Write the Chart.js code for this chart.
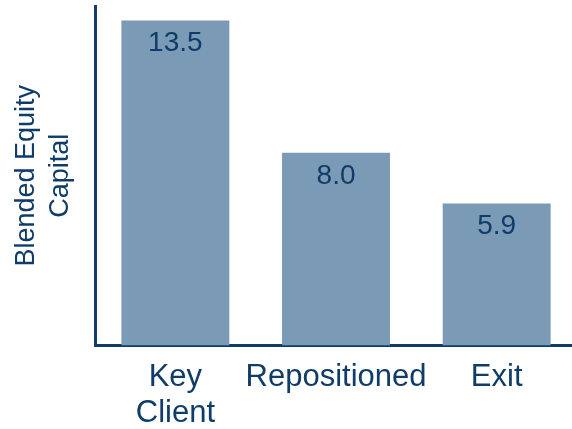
<!DOCTYPE html>
<html>
<head>
<meta charset="utf-8">
<script src="https://cdn.jsdelivr.net/npm/chart.js@4"></script>
<style>
  html, body { margin: 0; padding: 0; background: #fff; overflow: hidden; }
  #wrap { width: 577px; height: 429px; }
</style>
</head>
<body>
<div id="wrap"><canvas id="capitalChart"></canvas></div>
<script>
const categories = [['Key', 'Client'], 'Repositioned', 'Exit'];
const capitalValues = [13.5, 8.0, 5.9];
const valueLabels = ['13.5', '8.0', '5.9'];

const navy = '#0f3c68';
const barBlue = '#7a9ab5';
const fontFamily = '"Liberation Sans", Arial, sans-serif';

// writes each value just inside the top of its bar
const barValuePlugin = {
  id: 'barValues',
  afterDatasetsDraw(chart) {
    const ctx = chart.ctx;
    const meta = chart.getDatasetMeta(0);
    ctx.save();
    ctx.font = '28px ' + fontFamily;
    ctx.fillStyle = navy;
    ctx.textAlign = 'center';
    ctx.textBaseline = 'middle';
    meta.data.forEach((bar, i) => {
      ctx.fillText(valueLabels[i], bar.x, bar.y + 23);
    });
    ctx.restore();
  }
};

const ctx = document.getElementById('capitalChart').getContext('2d');
new Chart(ctx, {
  type: 'bar',
  data: {
    labels: categories,
    datasets: [{
      data: capitalValues,
      backgroundColor: barBlue,
      borderWidth: 0,
      categoryPercentage: 1,
      barPercentage: 0.672
    }]
  },
  options: {
    responsive: true,
    maintainAspectRatio: false,
    animation: false,
    layout: { padding: { top: 6, left: 0, right: 0, bottom: -17 } },
    plugins: {
      legend: { display: false },
      tooltip: { enabled: false }
    },
    scales: {
      x: {
        grid: { display: false, drawTicks: false },
        border: { display: true, color: navy, width: 3 },
        ticks: {
          color: navy,
          padding: 14,
          autoSkip: false,
          maxRotation: 0,
          font: { family: fontFamily, size: 31, lineHeight: 1.17 }
        }
      },
      y: {
        min: 0,
        max: 14.1,
        grid: { display: false, drawTicks: false },
        border: { display: true, color: navy, width: 3 },
        ticks: { display: false },
        title: {
          display: true,
          text: ['Blended Equity', 'Capital'],
          color: navy,
          padding: { top: 10, bottom: 17 },
          font: { family: fontFamily, size: 27, lineHeight: 1.26 }
        }
      }
    }
  },
  plugins: [barValuePlugin]
});
</script>
</body>
</html>
